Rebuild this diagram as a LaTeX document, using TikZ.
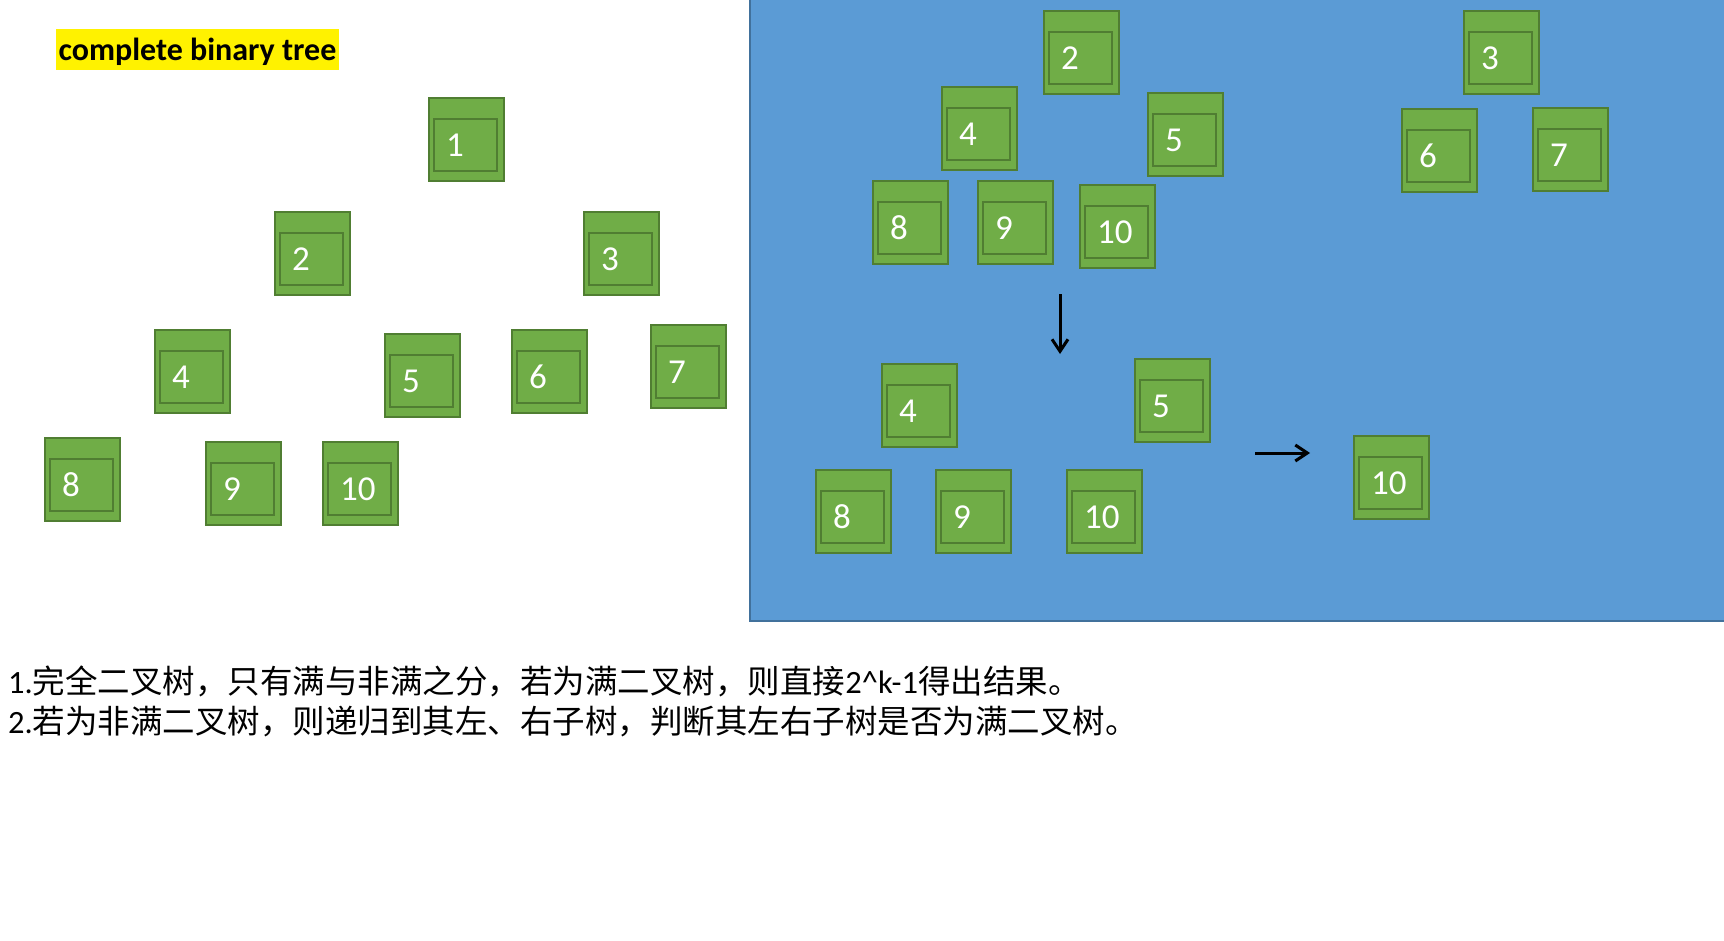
\documentclass[tikz,border=0pt]{standalone}
\usepackage{fontspec}
\setmainfont{Carlito}
\newfontfamily\cjkfont{Noto Sans CJK SC}
\usetikzlibrary{calc,arrows.meta}
\definecolor{gfill}{HTML}{70AD47}
\definecolor{gline}{HTML}{507E32}
\definecolor{bfill}{HTML}{5B9BD5}
\definecolor{bline}{HTML}{41719C}
\tikzset{
  outerbox/.style={draw=gline, fill=gfill, line width=2pt, minimum width=75pt, minimum height=83pt, inner sep=0pt, outer sep=0pt, anchor=north west},
  innerbox/.style={draw=gline, line width=2pt, minimum width=63pt, minimum height=52pt, inner sep=0pt, outer sep=0pt, anchor=north west},
  digit/.style={text=white, font=\fontsize{35}{40}\selectfont, inner sep=0pt, anchor=west},
  arrowline/.style={line width=3pt, -{Straight Barb[length=12pt,width=16pt,line width=3pt]}},
  bodytext/.style={anchor=base west, inner sep=0pt, font=\fontsize{32.5}{39}\selectfont},
  titlebox/.style={fill=yellow, minimum width=283pt, minimum height=41pt, inner sep=0pt, text height=22pt, text depth=0pt, font=\fontsize{32}{39}\selectfont\bfseries},
}
\newcommand\greenbox[4]{%
  \node[outerbox] (#1) at (#2,#3) {};
  \node[innerbox] (#1i) at ($(#1.north west)+(5,21)$) {};
  \node[digit] (#1t) at ($(#1i.west)+(12,0)$) {#4};
}
\begin{document}
\begin{tikzpicture}[x=1pt,y=-1pt]
\useasboundingbox (0,0) rectangle (1724,940);
% blue panel
\fill[bfill] (750,0) rectangle (1724,621);
\draw[bline, line width=1.5pt] (750,0) -- (750,621) -- (1724,621);
% title
\node[titlebox] (title) at (197.5,49.5) {complete binary tree};
% left tree
\greenbox{a1}{429}{98}{1}
\greenbox{a2}{275}{212}{2}
\greenbox{a3}{584}{212}{3}
\greenbox{a4}{155}{330}{4}
\greenbox{a5}{385}{334}{5}
\greenbox{a6}{512}{330}{6}
\greenbox{a7}{651}{325}{7}
\greenbox{a8}{45}{438}{8}
\greenbox{a9}{206}{442}{9}
\greenbox{a10}{323}{442}{10}
% right panel, top
\greenbox{b2}{1044}{11}{2}
\greenbox{b4}{942}{87}{4}
\greenbox{b5}{1148}{93}{5}
\greenbox{b8}{873}{181}{8}
\greenbox{b9}{978}{181}{9}
\greenbox{b10}{1080}{185}{10}
\greenbox{b3}{1464}{11}{3}
\greenbox{b6}{1402}{109}{6}
\greenbox{b7}{1533}{108}{7}
% right panel, bottom
\greenbox{c4}{882}{364}{4}
\greenbox{c5}{1135}{359}{5}
\greenbox{c8}{816}{470}{8}
\greenbox{c9}{936}{470}{9}
\greenbox{c10}{1067}{470}{10}
\greenbox{d10}{1354}{436}{10}
% arrows
\coordinate (dnA) at (1060,294);
\coordinate (dnB) at (1060,354);
\coordinate (rtA) at (1255,453);
\coordinate (rtB) at (1310,453);
\draw[arrowline] (dnA) -- (dnB);
\draw[arrowline] (rtA) -- (rtB);
% text
\node[bodytext] (line1) at (8,693) {1.{\cjkfont 完全二叉树，只有满与非满之分，若为满二叉树，则直接}2\textasciicircum k-1{\cjkfont 得出结果。}};
\node[bodytext] (line2) at (8,733) {2.{\cjkfont 若为非满二叉树，则递归到其左、右子树，判断其左右子树是否为满二叉树。}};
\end{tikzpicture}
\end{document}
